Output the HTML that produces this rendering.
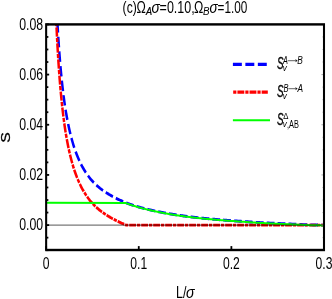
<!DOCTYPE html>
<html><head><meta charset="utf-8"><title>chart</title>
<style>
html,body{margin:0;padding:0;background:#fff;}
body{width:332px;height:299px;overflow:hidden;position:relative;font-family:"Liberation Sans",sans-serif;}
</style></head><body>
<svg width="332" height="299" viewBox="0 0 332 299" style="display:block;position:absolute;left:0;top:0;will-change:transform;filter:blur(0.3px)">
<rect x="0" y="0" width="332" height="299" fill="#fff"/>
<defs><clipPath id="cp"><rect x="46.15" y="24.40" width="277.85" height="225.60"/></clipPath></defs>
<g clip-path="url(#cp)"><g transform="scale(0.860 1)" fill="none" stroke-linejoin="round">
<path d="M66.88 24.40 L66.95 25.40 L67.01 26.40 L67.08 27.40 L67.15 28.40 L67.22 29.40 L67.28 30.40 L67.35 31.40 L67.42 32.40 L67.44 32.62 M67.74 36.78 L67.78 37.40 L67.86 38.40 L67.93 39.40 L68.01 40.40 L68.08 41.40 L68.16 42.40 L68.24 43.40 L68.32 44.40 L68.40 45.40 L68.48 46.40 L68.55 47.29 M68.90 51.44 L68.98 52.40 L69.07 53.40 L69.16 54.40 L69.25 55.40 L69.34 56.40 L69.43 57.40 L69.52 58.40 L69.61 59.40 L69.71 60.40 L69.80 61.40 L69.85 61.93 M70.26 66.07 L70.30 66.40 L70.40 67.40 L70.50 68.40 L70.61 69.40 L70.71 70.40 L70.82 71.40 L70.93 72.40 L71.04 73.40 L71.15 74.40 L71.27 75.40 L71.38 76.40 L71.40 76.54 M71.89 80.67 L71.98 81.40 L72.10 82.40 L72.23 83.40 L72.35 84.40 L72.48 85.40 L72.61 86.40 L72.75 87.40 L72.88 88.40 L73.02 89.40 L73.15 90.40 L73.25 91.10 M73.85 95.21 L73.87 95.40 L74.02 96.40 L74.18 97.40 L74.33 98.40 L74.49 99.40 L74.65 100.40 L74.81 101.40 L74.97 102.40 L75.14 103.40 L75.31 104.40 L75.48 105.40 L75.51 105.58 M76.24 109.67 L76.38 110.40 L76.57 111.40 L76.76 112.40 L76.96 113.40 L77.16 114.40 L77.36 115.40 L77.56 116.40 L77.77 117.40 L77.99 118.40 L78.20 119.40 L78.32 119.93 M79.24 123.97 L79.34 124.40 L79.58 125.40 L79.83 126.40 L80.08 127.40 L80.33 128.40 L80.59 129.40 L80.86 130.40 L81.13 131.40 L81.40 132.40 L81.68 133.40 L81.87 134.06 M83.05 138.00 L83.17 138.40 L83.49 139.40 L83.81 140.40 L84.14 141.40 L84.48 142.40 L84.82 143.40 L85.17 144.40 L85.53 145.40 L85.90 146.40 L86.28 147.40 L86.43 147.79 M87.95 151.57 L88.30 152.40 L88.74 153.40 L89.18 154.40 L89.64 155.40 L90.11 156.40 L90.59 157.40 L91.08 158.40 L91.59 159.40 L92.11 160.40 L92.32 160.81 M94.28 164.30 L94.34 164.40 L94.94 165.40 L95.55 166.40 L96.19 167.40 L96.85 168.40 L97.53 169.40 L98.23 170.40 L98.95 171.40 L99.69 172.40 L99.86 172.61 M102.31 175.66 L102.95 176.40 L103.84 177.40 L104.77 178.40 L105.74 179.40 L106.74 180.40 L107.79 181.40 L108.89 182.40 L109.13 182.61 M112.04 185.05 L112.40 185.33 L112.98 185.79 L113.56 186.23 L114.14 186.67 L114.72 187.09 L115.31 187.51 L115.89 187.92 L116.47 188.33 L117.05 188.72 L117.63 189.11 L118.21 189.49 L118.79 189.86 L119.37 190.22 L119.81 190.49 M123.02 192.36 L123.44 192.60 L124.03 192.91 L124.61 193.23 L125.19 193.54 L125.77 193.85 L126.35 194.15 L126.93 194.46 L127.51 194.75 L128.10 195.05 L128.68 195.34 L129.26 195.63 L129.84 195.91 L130.42 196.19 L131.00 196.47 L131.32 196.62 M134.66 198.14 L135.07 198.32 L135.65 198.57 L136.24 198.82 L136.82 199.06 L137.40 199.30 L137.98 199.54 L138.56 199.78 L139.14 200.01 L139.72 200.24 L140.31 200.47 L140.89 200.70 L141.47 200.93 L142.05 201.15 L142.63 201.37 L143.21 201.59 L143.24 201.60 M146.67 202.82 L146.70 202.83 L147.28 203.03 L147.86 203.22 L148.44 203.41 L149.03 203.60 L149.61 203.78 L150.19 203.96 L150.77 204.14 L151.35 204.32 L151.93 204.49 L152.51 204.66 L153.10 204.83 L153.68 204.99 L154.26 205.16 L154.84 205.32 L155.42 205.48 L155.45 205.49 M158.95 206.41 L159.49 206.55 L160.07 206.70 L160.65 206.84 L161.24 206.99 L161.82 207.13 L162.40 207.27 L162.98 207.41 L163.56 207.55 L164.14 207.68 L164.72 207.82 L165.31 207.95 L165.89 208.08 L166.47 208.21 L167.05 208.34 L167.63 208.47 L167.84 208.51 M171.37 209.26 L171.70 209.33 L172.28 209.45 L172.86 209.56 L173.44 209.68 L174.03 209.80 L174.61 209.91 L175.19 210.02 L175.77 210.14 L176.35 210.25 L176.93 210.36 L177.51 210.47 L178.10 210.58 L178.68 210.69 L179.26 210.80 L179.84 210.90 L180.33 210.99 M183.87 211.63 L183.91 211.64 L184.49 211.74 L185.07 211.84 L185.65 211.95 L186.24 212.05 L186.82 212.14 L187.40 212.24 L187.98 212.34 L188.56 212.44 L189.14 212.54 L189.72 212.63 L190.31 212.73 L190.89 212.82 L191.47 212.91 L192.05 213.01 L192.63 213.10 L192.86 213.14 M196.42 213.68 L196.70 213.72 L197.28 213.81 L197.86 213.89 L198.44 213.98 L199.03 214.06 L199.61 214.14 L200.19 214.23 L200.77 214.31 L201.35 214.39 L201.93 214.47 L202.51 214.55 L203.10 214.63 L203.68 214.71 L204.26 214.79 L204.84 214.86 L205.42 214.94 L205.43 214.94 M209.00 215.40 L209.49 215.46 L210.07 215.53 L210.65 215.60 L211.24 215.67 L211.82 215.74 L212.40 215.81 L212.98 215.88 L213.56 215.95 L214.14 216.02 L214.72 216.08 L215.31 216.15 L215.89 216.21 L216.47 216.28 L217.05 216.34 L217.63 216.41 L218.03 216.45 M221.60 216.84 L221.70 216.85 L222.28 216.91 L222.86 216.97 L223.44 217.03 L224.03 217.09 L224.61 217.14 L225.19 217.20 L225.77 217.26 L226.35 217.32 L226.93 217.37 L227.51 217.43 L228.10 217.49 L228.68 217.54 L229.26 217.60 L229.84 217.65 L230.42 217.71 L230.65 217.73 M234.22 218.06 L234.49 218.08 L235.07 218.13 L235.65 218.19 L236.24 218.24 L236.82 218.29 L237.40 218.34 L237.98 218.39 L238.56 218.44 L239.14 218.49 L239.72 218.54 L240.31 218.58 L240.89 218.63 L241.47 218.68 L242.05 218.73 L242.63 218.78 L243.21 218.82 L243.28 218.83 M246.86 219.11 L247.28 219.15 L247.86 219.19 L248.44 219.24 L249.03 219.28 L249.61 219.32 L250.19 219.37 L250.77 219.41 L251.35 219.45 L251.93 219.50 L252.51 219.54 L253.10 219.58 L253.68 219.63 L254.26 219.67 L254.84 219.71 L255.42 219.75 L255.92 219.79 M259.50 220.03 L260.07 220.07 L260.65 220.11 L261.24 220.15 L261.82 220.19 L262.40 220.23 L262.98 220.27 L263.56 220.30 L264.14 220.34 L264.72 220.38 L265.31 220.42 L265.89 220.45 L266.47 220.49 L267.05 220.52 L267.63 220.56 L268.21 220.60 L268.56 220.62 M272.15 220.83 L272.28 220.84 L272.86 220.88 L273.44 220.91 L274.03 220.94 L274.61 220.98 L275.19 221.01 L275.77 221.05 L276.35 221.08 L276.93 221.12 L277.51 221.15 L278.10 221.18 L278.68 221.22 L279.26 221.25 L279.84 221.29 L280.42 221.32 L281.00 221.36 L281.21 221.37 M284.80 221.59 L285.07 221.61 L285.65 221.64 L286.24 221.68 L286.82 221.71 L287.40 221.75 L287.98 221.79 L288.56 221.82 L289.14 221.86 L289.72 221.89 L290.31 221.93 L290.89 221.96 L291.47 222.00 L292.05 222.03 L292.63 222.07 L293.21 222.10 L293.79 222.14 L293.86 222.14 M297.44 222.34 L297.86 222.36 L298.44 222.39 L299.03 222.42 L299.61 222.45 L300.19 222.48 L300.77 222.51 L301.35 222.54 L301.93 222.57 L302.51 222.59 L303.10 222.62 L303.68 222.65 L304.26 222.68 L304.84 222.70 L305.42 222.73 L306.00 222.75 L306.51 222.78 M310.10 222.93 L310.65 222.96 L311.24 222.98 L311.82 223.00 L312.40 223.03 L312.98 223.05 L313.56 223.08 L314.14 223.10 L314.72 223.12 L315.31 223.15 L315.89 223.17 L316.47 223.19 L317.05 223.22 L317.63 223.24 L318.21 223.26 L318.79 223.29 L319.17 223.30 M322.76 223.45 L322.86 223.45 L323.44 223.48 L324.03 223.50 L324.61 223.52 L325.19 223.55 L325.77 223.57 L326.35 223.59 L326.93 223.62 L327.51 223.64 L328.10 223.66 L328.68 223.69 L329.26 223.71 L329.84 223.73 L330.42 223.76 L331.00 223.78 L331.58 223.80 L331.83 223.81 M335.42 223.95 L335.65 223.96 L336.24 223.99 L336.82 224.01 L337.40 224.03 L337.98 224.05 L338.56 224.07 L339.14 224.10 L339.72 224.12 L340.31 224.14 L340.89 224.16 L341.47 224.18 L342.05 224.21 L342.63 224.23 L343.21 224.25 L343.79 224.27 L344.37 224.29 L344.49 224.30 M348.08 224.44 L348.44 224.46 L349.03 224.48 L349.61 224.50 L350.19 224.53 L350.77 224.55 L351.35 224.57 L351.93 224.59 L352.51 224.62 L353.10 224.64 L353.68 224.66 L354.26 224.68 L354.84 224.70 L355.42 224.72 L356.00 224.74 L356.58 224.76 L357.15 224.78 M360.74 224.87 L361.24 224.88 L361.82 224.89 L362.40 224.90 L362.98 224.92 L363.56 224.93 L364.14 224.94 L364.72 224.95 L365.31 224.96 L365.89 224.97 L366.47 224.98 L367.05 224.99 L367.63 225.00 L368.21 225.01 L368.79 225.02 L369.37 225.03 L369.81 225.03 M373.40 225.08 L373.44 225.08 L374.03 225.08 L374.61 225.09 L375.19 225.09 L375.77 225.09 L376.35 225.09 L376.74 225.09" stroke="#0000ff" stroke-width="2.90"/>
<path d="M65.58 24.40 L65.64 25.40 L65.67 26.10 M65.74 27.39 L65.74 27.40 L65.80 28.40 L65.85 29.40 L65.91 30.40 L65.96 31.40 L66.02 32.40 L66.08 33.40 L66.13 34.40 L66.19 35.40 L66.25 36.40 L66.26 36.57 M66.34 37.87 L66.37 38.40 L66.43 39.40 L66.49 40.40 L66.55 41.40 L66.60 42.16 M66.68 43.46 L66.74 44.40 L66.80 45.40 L66.87 46.40 L66.93 47.40 L67.00 48.40 L67.06 49.40 L67.13 50.40 L67.20 51.40 L67.27 52.40 L67.28 52.63 M67.37 53.93 L67.41 54.40 L67.48 55.40 L67.55 56.40 L67.62 57.40 L67.68 58.21 M67.77 59.51 L67.84 60.40 L67.91 61.40 L67.99 62.40 L68.06 63.40 L68.14 64.40 L68.22 65.40 L68.30 66.40 L68.38 67.40 L68.46 68.40 L68.48 68.67 M68.59 69.97 L68.62 70.40 L68.70 71.40 L68.79 72.40 L68.87 73.40 L68.95 74.25 M69.06 75.54 L69.13 76.40 L69.22 77.40 L69.31 78.40 L69.40 79.40 L69.50 80.40 L69.59 81.40 L69.68 82.40 L69.78 83.40 L69.87 84.40 L69.90 84.69 M70.03 85.98 L70.07 86.40 L70.17 87.40 L70.27 88.40 L70.37 89.40 L70.46 90.25 M70.60 91.54 L70.69 92.40 L70.79 93.40 L70.90 94.40 L71.01 95.40 L71.13 96.40 L71.24 97.40 L71.35 98.40 L71.47 99.40 L71.59 100.40 L71.62 100.67 M71.77 101.95 L71.82 102.40 L71.95 103.40 L72.07 104.40 L72.20 105.40 L72.30 106.21 M72.46 107.50 L72.58 108.40 L72.71 109.40 L72.85 110.40 L72.98 111.40 L73.12 112.40 L73.26 113.40 L73.40 114.40 L73.54 115.40 L73.69 116.40 L73.72 116.58 M73.91 117.86 L73.99 118.40 L74.14 119.40 L74.29 120.40 L74.45 121.40 L74.56 122.10 M74.76 123.37 L74.77 123.40 L74.93 124.40 L75.10 125.40 L75.26 126.40 L75.44 127.40 L75.61 128.40 L75.79 129.40 L75.97 130.40 L76.15 131.40 L76.33 132.39 M76.57 133.66 L76.71 134.40 L76.91 135.40 L77.11 136.40 L77.31 137.40 L77.40 137.86 M77.66 139.12 L77.72 139.40 L77.93 140.40 L78.15 141.40 L78.37 142.40 L78.59 143.40 L78.82 144.40 L79.05 145.40 L79.28 146.40 L79.52 147.40 L79.68 148.02 M79.98 149.27 L80.02 149.40 L80.27 150.40 L80.53 151.40 L80.79 152.40 L81.06 153.39 M81.40 154.63 L81.61 155.40 L81.90 156.40 L82.19 157.40 L82.48 158.40 L82.78 159.40 L83.09 160.40 L83.41 161.40 L83.73 162.40 L84.03 163.31 M84.44 164.52 L84.74 165.40 L85.09 166.40 L85.44 167.40 L85.81 168.40 L85.85 168.50 M86.30 169.69 L86.57 170.40 L86.96 171.40 L87.36 172.40 L87.77 173.40 L88.19 174.40 L88.63 175.40 L89.07 176.40 L89.52 177.40 L89.79 177.96 M90.32 179.11 L90.47 179.40 L90.95 180.40 L91.46 181.40 L91.97 182.40 L92.20 182.82 M92.79 183.93 L93.05 184.40 L93.61 185.40 L94.19 186.40 L94.78 187.40 L95.40 188.40 L96.03 189.40 L96.68 190.40 L97.36 191.40 L97.38 191.44 M98.09 192.45 L98.77 193.40 L99.51 194.40 L100.27 195.40 L100.52 195.71 M101.28 196.67 L101.88 197.40 L102.73 198.40 L103.62 199.40 L104.53 200.40 L105.49 201.40 L106.49 202.40 L107.08 202.97 M107.95 203.79 L108.61 204.40 L109.75 205.40 L110.92 206.39 M111.84 207.14 L112.09 207.34 L112.68 207.80 L113.26 208.25 L113.84 208.69 L114.42 209.12 L115.00 209.55 L115.58 209.96 L116.16 210.37 L116.75 210.77 L117.33 211.16 L117.91 211.54 L118.49 211.92 L118.61 211.99 M119.60 212.61 L119.65 212.64 L120.23 213.00 L120.82 213.35 L121.40 213.69 L121.98 214.02 L122.56 214.35 L122.92 214.55 M123.94 215.12 L124.30 215.32 L124.89 215.63 L125.47 215.94 L126.05 216.25 L126.63 216.55 L127.21 216.85 L127.79 217.15 L128.37 217.44 L128.95 217.73 L129.54 218.01 L130.12 218.30 L130.70 218.57 L131.23 218.83 M132.27 219.31 L132.44 219.39 L133.02 219.66 L133.61 219.92 L134.19 220.18 L134.77 220.43 L135.35 220.69 L135.75 220.86 M136.81 221.30 L137.09 221.42 L137.68 221.66 L138.26 221.90 L138.84 222.14 L139.42 222.37 L140.00 222.60 L140.58 222.83 L141.16 223.06 L141.75 223.28 L142.33 223.51 L142.91 223.72 L143.49 223.94 L144.07 224.16 L144.35 224.26 M145.43 224.64 L145.82 224.78 L146.40 224.98 L146.98 225.10 L147.56 225.10 L148.14 225.10 L148.72 225.10 L149.10 225.10 M150.23 225.10 L150.47 225.10 L151.05 225.10 L151.63 225.10 L152.21 225.10 L152.79 225.10 L153.37 225.10 L153.95 225.10 L154.54 225.10 L155.12 225.10 L155.70 225.10 L156.28 225.10 L156.86 225.10 L157.44 225.10 L158.02 225.10 L158.20 225.10 M159.32 225.10 L159.77 225.10 L160.35 225.10 L160.93 225.10 L161.51 225.10 L162.09 225.10 L162.68 225.10 L163.05 225.10 M164.18 225.10 L164.42 225.10 L165.00 225.10 L165.58 225.10 L166.16 225.10 L166.75 225.10 L167.33 225.10 L167.91 225.10 L168.49 225.10 L169.07 225.10 L169.65 225.10 L170.23 225.10 L170.82 225.10 L171.40 225.10 L171.98 225.10 L172.15 225.10 M173.27 225.10 L173.72 225.10 L174.30 225.10 L174.89 225.10 L175.47 225.10 L176.05 225.10 L176.63 225.10 L177.00 225.10 M178.12 225.10 L178.37 225.10 L178.95 225.10 L179.54 225.10 L180.12 225.10 L180.70 225.10 L181.28 225.10 L181.86 225.10 L182.44 225.10 L183.02 225.10 L183.61 225.10 L184.19 225.10 L184.77 225.10 L185.35 225.10 L185.93 225.10 L186.09 225.10 M187.22 225.10 L187.68 225.10 L188.26 225.10 L188.84 225.10 L189.42 225.10 L190.00 225.10 L190.58 225.10 L190.94 225.10 M192.07 225.10 L192.33 225.10 L192.91 225.10 L193.49 225.10 L194.07 225.10 L194.65 225.10 L195.23 225.10 L195.82 225.10 L196.40 225.10 L196.98 225.10 L197.56 225.10 L198.14 225.10 L198.72 225.10 L199.30 225.10 L199.89 225.10 L200.04 225.10 M201.17 225.10 L201.63 225.10 L202.21 225.10 L202.79 225.10 L203.37 225.10 L203.95 225.10 L204.54 225.10 L204.89 225.10 M206.02 225.10 L206.28 225.10 L206.86 225.10 L207.44 225.10 L208.02 225.10 L208.61 225.10 L209.19 225.10 L209.77 225.10 L210.35 225.10 L210.93 225.10 L211.51 225.10 L212.09 225.10 L212.68 225.10 L213.26 225.10 L213.84 225.10 L213.99 225.10 M215.11 225.10 L215.58 225.10 L216.16 225.10 L216.75 225.10 L217.33 225.10 L217.91 225.10 L218.49 225.10 L218.84 225.10 M219.96 225.10 L220.23 225.10 L220.82 225.10 L221.40 225.10 L221.98 225.10 L222.56 225.10 L223.14 225.10 L223.72 225.10 L224.30 225.10 L224.89 225.10 L225.47 225.10 L226.05 225.10 L226.63 225.10 L227.21 225.10 L227.79 225.10 L227.93 225.10 M229.06 225.10 L229.54 225.10 L230.12 225.10 L230.70 225.10 L231.28 225.10 L231.86 225.10 L232.44 225.10 L232.78 225.10 M233.91 225.10 L234.19 225.10 L234.77 225.10 L235.35 225.10 L235.93 225.10 L236.51 225.10 L237.09 225.10 L237.68 225.10 L238.26 225.10 L238.84 225.10 L239.42 225.10 L240.00 225.10 L240.58 225.10 L241.16 225.10 L241.75 225.10 L241.88 225.10 M243.01 225.10 L243.49 225.10 L244.07 225.10 L244.65 225.10 L245.23 225.10 L245.82 225.10 L246.40 225.10 L246.73 225.10 M247.86 225.10 L248.14 225.10 L248.72 225.10 L249.30 225.10 L249.89 225.10 L250.47 225.10 L251.05 225.10 L251.63 225.10 L252.21 225.10 L252.79 225.10 L253.37 225.10 L253.95 225.10 L254.54 225.10 L255.12 225.10 L255.70 225.10 L255.83 225.10 M256.95 225.10 L257.44 225.10 L258.02 225.10 L258.61 225.10 L259.19 225.10 L259.77 225.10 L260.35 225.10 L260.68 225.10 M261.80 225.10 L262.09 225.10 L262.68 225.10 L263.26 225.10 L263.84 225.10 L264.42 225.10 L265.00 225.10 L265.58 225.10 L266.16 225.10 L266.75 225.10 L267.33 225.10 L267.91 225.10 L268.49 225.10 L269.07 225.10 L269.65 225.10 L269.77 225.10 M270.90 225.10 L271.40 225.10 L271.98 225.10 L272.56 225.10 L273.14 225.10 L273.72 225.10 L274.30 225.10 L274.63 225.10 M275.75 225.10 L276.05 225.10 L276.63 225.10 L277.21 225.10 L277.79 225.10 L278.37 225.10 L278.95 225.10 L279.54 225.10 L280.12 225.10 L280.70 225.10 L281.28 225.10 L281.86 225.10 L282.44 225.10 L283.02 225.10 L283.61 225.10 L283.72 225.10 M284.85 225.10 L285.35 225.10 L285.93 225.10 L286.51 225.10 L287.09 225.10 L287.68 225.10 L288.26 225.10 L288.57 225.10 M289.70 225.10 L290.00 225.10 L290.58 225.10 L291.16 225.10 L291.75 225.10 L292.33 225.10 L292.91 225.10 L293.49 225.10 L294.07 225.10 L294.65 225.10 L295.23 225.10 L295.82 225.10 L296.40 225.10 L296.98 225.10 L297.56 225.10 L297.67 225.10 M298.80 225.10 L299.30 225.10 L299.89 225.10 L300.47 225.10 L301.05 225.10 L301.63 225.10 L302.21 225.10 L302.52 225.10 M303.65 225.10 L303.95 225.10 L304.54 225.10 L305.12 225.10 L305.70 225.10 L306.28 225.10 L306.86 225.10 L307.44 225.10 L308.02 225.10 L308.61 225.10 L309.19 225.10 L309.77 225.10 L310.35 225.10 L310.93 225.10 L311.51 225.10 L311.62 225.10 M312.74 225.10 L313.26 225.10 L313.84 225.10 L314.42 225.10 L315.00 225.10 L315.58 225.10 L316.16 225.10 L316.47 225.10 M317.59 225.10 L317.91 225.10 L318.49 225.10 L319.07 225.10 L319.65 225.10 L320.23 225.10 L320.82 225.10 L321.40 225.10 L321.98 225.10 L322.56 225.10 L323.14 225.10 L323.72 225.10 L324.30 225.10 L324.89 225.10 L325.47 225.10 L325.56 225.10 M326.69 225.10 L327.21 225.10 L327.79 225.10 L328.37 225.10 L328.95 225.10 L329.54 225.10 L330.12 225.10 L330.41 225.10 M331.54 225.10 L331.86 225.10 L332.44 225.10 L333.02 225.10 L333.61 225.10 L334.19 225.10 L334.77 225.10 L335.35 225.10 L335.93 225.10 L336.51 225.10 L337.09 225.10 L337.68 225.10 L338.26 225.10 L338.84 225.10 L339.42 225.10 L339.51 225.10 M340.64 225.10 L341.16 225.10 L341.75 225.10 L342.33 225.10 L342.91 225.10 L343.49 225.10 L344.07 225.10 L344.36 225.10 M345.49 225.10 L345.82 225.10 L346.40 225.10 L346.98 225.10 L347.56 225.10 L348.14 225.10 L348.72 225.10 L349.30 225.10 L349.89 225.10 L350.47 225.10 L351.05 225.10 L351.63 225.10 L352.21 225.10 L352.79 225.10 L353.37 225.10 L353.46 225.10 M354.58 225.10 L355.12 225.10 L355.70 225.10 L356.28 225.10 L356.86 225.10 L357.44 225.10 L358.02 225.10 L358.31 225.10 M359.43 225.10 L359.77 225.10 L360.35 225.10 L360.93 225.10 L361.51 225.10 L362.09 225.10 L362.68 225.10 L363.26 225.10 L363.84 225.10 L364.42 225.10 L365.00 225.10 L365.58 225.10 L366.16 225.10 L366.75 225.10 L367.33 225.10 L367.40 225.10 M368.53 225.10 L369.07 225.10 L369.65 225.10 L370.23 225.10 L370.82 225.10 L371.40 225.10 L371.98 225.10 L372.26 225.10 M373.38 225.10 L373.72 225.10 L374.30 225.10 L374.89 225.10 L375.47 225.10 L376.05 225.10 L376.63 225.10 L376.74 225.10" stroke="#ff0000" stroke-width="2.90"/>
<path d="M53.66 202.85 L146.12 202.93 L146.70 203.13 L147.28 203.33 L147.86 203.52 L148.44 203.71 L149.03 203.90 L149.61 204.08 L150.19 204.26 L150.77 204.44 L151.35 204.62 L151.93 204.79 L152.51 204.96 L153.10 205.13 L153.68 205.29 L154.26 205.46 L154.84 205.62 L155.42 205.78 L156.00 205.94 L156.58 206.09 L157.17 206.25 L157.75 206.40 L158.33 206.55 L158.91 206.70 L159.49 206.85 L160.07 207.00 L160.65 207.14 L161.24 207.29 L161.82 207.43 L162.40 207.57 L162.98 207.71 L163.56 207.85 L164.14 207.98 L164.72 208.12 L165.31 208.25 L165.89 208.38 L166.47 208.51 L167.05 208.64 L167.63 208.77 L168.21 208.89 L168.79 209.02 L169.37 209.14 L169.96 209.27 L170.54 209.39 L171.12 209.51 L171.70 209.63 L172.28 209.75 L172.86 209.86 L173.44 209.98 L174.03 210.10 L174.61 210.21 L175.19 210.32 L175.77 210.44 L176.35 210.55 L176.93 210.66 L177.51 210.77 L178.10 210.88 L178.68 210.99 L179.26 211.10 L179.84 211.20 L180.42 211.31 L181.00 211.42 L181.58 211.52 L182.17 211.63 L182.75 211.73 L183.33 211.84 L183.91 211.94 L184.49 212.04 L185.07 212.14 L185.65 212.25 L186.24 212.35 L186.82 212.44 L187.40 212.54 L187.98 212.64 L188.56 212.74 L189.14 212.84 L189.72 212.93 L190.31 213.03 L190.89 213.12 L191.47 213.21 L192.05 213.31 L192.63 213.40 L193.21 213.49 L193.79 213.58 L194.37 213.67 L194.96 213.76 L195.54 213.85 L196.12 213.94 L196.70 214.02 L197.28 214.11 L197.86 214.19 L198.44 214.28 L199.03 214.36 L199.61 214.44 L200.19 214.53 L200.77 214.61 L201.35 214.69 L201.93 214.77 L202.51 214.85 L203.10 214.93 L203.68 215.01 L204.26 215.09 L204.84 215.16 L205.42 215.24 L206.00 215.32 L206.58 215.39 L207.17 215.47 L207.75 215.54 L208.33 215.62 L208.91 215.69 L209.49 215.76 L210.07 215.83 L210.65 215.90 L211.24 215.97 L211.82 216.04 L212.40 216.11 L212.98 216.18 L213.56 216.25 L214.14 216.32 L214.72 216.38 L215.31 216.45 L215.89 216.51 L216.47 216.58 L217.05 216.64 L217.63 216.71 L218.21 216.77 L218.79 216.84 L219.37 216.90 L219.96 216.96 L220.54 217.02 L221.12 217.08 L221.70 217.15 L222.28 217.21 L222.86 217.27 L223.44 217.33 L224.03 217.39 L224.61 217.44 L225.19 217.50 L225.77 217.56 L226.35 217.62 L226.93 217.67 L227.51 217.73 L228.10 217.79 L228.68 217.84 L229.26 217.90 L229.84 217.95 L230.42 218.01 L231.00 218.06 L231.58 218.12 L232.17 218.17 L232.75 218.22 L233.33 218.28 L233.91 218.33 L234.49 218.38 L235.07 218.43 L235.65 218.49 L236.24 218.54 L236.82 218.59 L237.40 218.64 L237.98 218.69 L238.56 218.74 L239.14 218.79 L239.72 218.84 L240.31 218.88 L240.89 218.93 L241.47 218.98 L242.05 219.03 L242.63 219.08 L243.21 219.12 L243.79 219.17 L244.37 219.22 L244.96 219.26 L245.54 219.31 L246.12 219.36 L246.70 219.40 L247.28 219.45 L247.86 219.49 L248.44 219.54 L249.03 219.58 L249.61 219.62 L250.19 219.67 L250.77 219.71 L251.35 219.75 L251.93 219.80 L252.51 219.84 L253.10 219.88 L253.68 219.93 L254.26 219.97 L254.84 220.01 L255.42 220.05 L256.00 220.09 L256.58 220.13 L257.17 220.17 L257.75 220.21 L258.33 220.25 L258.91 220.29 L259.49 220.33 L260.07 220.37 L260.65 220.41 L261.24 220.45 L261.82 220.49 L262.40 220.53 L262.98 220.57 L263.56 220.60 L264.14 220.64 L264.72 220.68 L265.31 220.72 L265.89 220.75 L266.47 220.79 L267.05 220.82 L267.63 220.86 L268.21 220.90 L268.79 220.93 L269.37 220.97 L269.96 221.00 L270.54 221.04 L271.12 221.07 L271.70 221.11 L272.28 221.14 L272.86 221.18 L273.44 221.21 L274.03 221.24 L274.61 221.28 L275.19 221.31 L275.77 221.35 L276.35 221.38 L276.93 221.42 L277.51 221.45 L278.10 221.48 L278.68 221.52 L279.26 221.55 L279.84 221.59 L280.42 221.62 L281.00 221.66 L281.58 221.69 L282.17 221.73 L282.75 221.76 L283.33 221.80 L283.91 221.83 L284.49 221.87 L285.07 221.91 L285.65 221.94 L286.24 221.98 L286.82 222.01 L287.40 222.05 L287.98 222.09 L288.56 222.12 L289.14 222.16 L289.72 222.19 L290.31 222.23 L290.89 222.26 L291.47 222.30 L292.05 222.33 L292.63 222.37 L293.21 222.40 L293.79 222.44 L294.37 222.47 L294.96 222.50 L295.54 222.54 L296.12 222.57 L296.70 222.60 L297.28 222.63 L297.86 222.66 L298.44 222.69 L299.03 222.72 L299.61 222.75 L300.19 222.78 L300.77 222.81 L301.35 222.84 L301.93 222.87 L302.51 222.89 L303.10 222.92 L303.68 222.95 L304.26 222.98 L304.84 223.00 L305.42 223.03 L306.00 223.05 L306.58 223.08 L307.17 223.11 L307.75 223.13 L308.33 223.16 L308.91 223.18 L309.49 223.21 L310.07 223.23 L310.65 223.26 L311.24 223.28 L311.82 223.30 L312.40 223.33 L312.98 223.35 L313.56 223.38 L314.14 223.40 L314.72 223.42 L315.31 223.45 L315.89 223.47 L316.47 223.49 L317.05 223.52 L317.63 223.54 L318.21 223.56 L318.79 223.59 L319.37 223.61 L319.96 223.63 L320.54 223.66 L321.12 223.68 L321.70 223.71 L322.28 223.73 L322.86 223.75 L323.44 223.78 L324.03 223.80 L324.61 223.82 L325.19 223.85 L325.77 223.87 L326.35 223.89 L326.93 223.92 L327.51 223.94 L328.10 223.96 L328.68 223.99 L329.26 224.01 L329.84 224.03 L330.42 224.06 L331.00 224.08 L331.58 224.10 L332.17 224.13 L332.75 224.15 L333.33 224.17 L333.91 224.19 L334.49 224.22 L335.07 224.24 L335.65 224.26 L336.24 224.29 L336.82 224.31 L337.40 224.33 L337.98 224.35 L338.56 224.37 L339.14 224.40 L339.72 224.42 L340.31 224.44 L340.89 224.46 L341.47 224.48 L342.05 224.51 L342.63 224.53 L343.21 224.55 L343.79 224.57 L344.37 224.59 L344.96 224.62 L345.54 224.64 L346.12 224.66 L346.70 224.69 L347.28 224.71 L347.86 224.73 L348.44 224.76 L349.03 224.78 L349.61 224.80 L350.19 224.83 L350.77 224.85 L351.35 224.87 L351.93 224.89 L352.51 224.92 L353.10 224.94 L353.68 224.96 L354.26 224.98 L354.84 225.00 L355.42 225.02 L356.00 225.04 L356.58 225.06 L357.17 225.08 L357.75 225.09 L358.33 225.11 L358.91 225.13 L359.49 225.14 L360.07 225.16 L360.65 225.17 L361.24 225.18 L361.82 225.19 L362.40 225.20 L362.98 225.22 L363.56 225.23 L364.14 225.24 L364.72 225.25 L365.31 225.26 L365.89 225.27 L366.47 225.28 L367.05 225.29 L367.63 225.30 L368.21 225.31 L368.79 225.32 L369.37 225.33 L369.96 225.34 L370.54 225.34 L371.12 225.35 L371.70 225.36 L372.28 225.37 L372.86 225.37 L373.44 225.38 L374.03 225.38 L374.61 225.39 L375.19 225.39 L375.77 225.39 L376.35 225.39 L376.74 225.39" stroke="#00ff00" stroke-width="2.00"/>
</g></g>
<line x1="46.15" y1="225.10" x2="324.00" y2="225.10" stroke="#787878" stroke-width="1.1" style="mix-blend-mode:multiply"/>
<g stroke="#000" stroke-width="1.8"><line x1="46.15" y1="250.19" x2="48.35" y2="250.19"/><line x1="322.00" y1="250.19" x2="324.00" y2="250.19" stroke-width="0.7" stroke="#c4c4c4"/><line x1="46.15" y1="237.64" x2="48.35" y2="237.64"/><line x1="322.00" y1="237.64" x2="324.00" y2="237.64" stroke-width="0.7" stroke="#c4c4c4"/><line x1="46.15" y1="225.10" x2="49.15" y2="225.10"/><line x1="321.40" y1="225.10" x2="324.00" y2="225.10" stroke-width="0.7" stroke="#8a8a8a"/><line x1="46.15" y1="212.56" x2="48.35" y2="212.56"/><line x1="322.00" y1="212.56" x2="324.00" y2="212.56" stroke-width="0.7" stroke="#c4c4c4"/><line x1="46.15" y1="200.01" x2="48.35" y2="200.01"/><line x1="322.00" y1="200.01" x2="324.00" y2="200.01" stroke-width="0.7" stroke="#c4c4c4"/><line x1="46.15" y1="187.47" x2="48.35" y2="187.47"/><line x1="322.00" y1="187.47" x2="324.00" y2="187.47" stroke-width="0.7" stroke="#c4c4c4"/><line x1="46.15" y1="174.93" x2="49.15" y2="174.93"/><line x1="321.40" y1="174.93" x2="324.00" y2="174.93" stroke-width="0.7" stroke="#8a8a8a"/><line x1="46.15" y1="162.38" x2="48.35" y2="162.38"/><line x1="322.00" y1="162.38" x2="324.00" y2="162.38" stroke-width="0.7" stroke="#c4c4c4"/><line x1="46.15" y1="149.84" x2="48.35" y2="149.84"/><line x1="322.00" y1="149.84" x2="324.00" y2="149.84" stroke-width="0.7" stroke="#c4c4c4"/><line x1="46.15" y1="137.29" x2="48.35" y2="137.29"/><line x1="322.00" y1="137.29" x2="324.00" y2="137.29" stroke-width="0.7" stroke="#c4c4c4"/><line x1="46.15" y1="124.75" x2="49.15" y2="124.75"/><line x1="321.40" y1="124.75" x2="324.00" y2="124.75" stroke-width="0.7" stroke="#8a8a8a"/><line x1="46.15" y1="112.21" x2="48.35" y2="112.21"/><line x1="322.00" y1="112.21" x2="324.00" y2="112.21" stroke-width="0.7" stroke="#c4c4c4"/><line x1="46.15" y1="99.66" x2="48.35" y2="99.66"/><line x1="322.00" y1="99.66" x2="324.00" y2="99.66" stroke-width="0.7" stroke="#c4c4c4"/><line x1="46.15" y1="87.12" x2="48.35" y2="87.12"/><line x1="322.00" y1="87.12" x2="324.00" y2="87.12" stroke-width="0.7" stroke="#c4c4c4"/><line x1="46.15" y1="74.58" x2="49.15" y2="74.58"/><line x1="321.40" y1="74.58" x2="324.00" y2="74.58" stroke-width="0.7" stroke="#8a8a8a"/><line x1="46.15" y1="62.03" x2="48.35" y2="62.03"/><line x1="322.00" y1="62.03" x2="324.00" y2="62.03" stroke-width="0.7" stroke="#c4c4c4"/><line x1="46.15" y1="49.49" x2="48.35" y2="49.49"/><line x1="322.00" y1="49.49" x2="324.00" y2="49.49" stroke-width="0.7" stroke="#c4c4c4"/><line x1="46.15" y1="36.94" x2="48.35" y2="36.94"/><line x1="322.00" y1="36.94" x2="324.00" y2="36.94" stroke-width="0.7" stroke="#c4c4c4"/><line x1="46.15" y1="24.40" x2="49.15" y2="24.40"/><line x1="321.40" y1="24.40" x2="324.00" y2="24.40" stroke-width="0.7" stroke="#8a8a8a"/><line x1="46.15" y1="250.00" x2="46.15" y2="246.10" stroke-width="1.8"/><line x1="138.77" y1="250.00" x2="138.77" y2="246.10" stroke-width="1.8"/><line x1="231.38" y1="250.00" x2="231.38" y2="246.10" stroke-width="1.8"/><line x1="324.00" y1="250.00" x2="324.00" y2="246.10" stroke-width="1.8"/></g>
<rect x="53.66" y="24.40" width="323.08" height="225.60" transform="scale(0.860 1)" fill="none" stroke="#000" stroke-width="2.4"/>
<g fill="none" transform="scale(0.860 1)">
<path d="M270.81 64.3 H310.47" stroke="#0000ff" stroke-width="3.30" stroke-dasharray="10.4 4.1"/>
<path d="M271.16 92.1 H311.40" stroke="#ff0000" stroke-width="3.30" stroke-dasharray="3.7 1.2 8.0 1.2"/>
<path d="M270.81 120.2 H313.95" stroke="#00ff00" stroke-width="2.00"/>
</g>
<g font-family="'Liberation Sans', sans-serif" fill="#000">
<text transform="translate(43.20 230.30) scale(0.784 1)" font-size="15.69" text-anchor="end" >0.00</text>
<text transform="translate(43.20 180.12) scale(0.784 1)" font-size="15.69" text-anchor="end" >0.02</text>
<text transform="translate(43.20 129.95) scale(0.784 1)" font-size="15.69" text-anchor="end" >0.04</text>
<text transform="translate(43.20 79.78) scale(0.784 1)" font-size="15.69" text-anchor="end" >0.06</text>
<text transform="translate(43.20 29.60) scale(0.784 1)" font-size="15.69" text-anchor="end" >0.08</text>
<text transform="translate(46.15 268.80) scale(0.772 1)" font-size="15.69" text-anchor="middle" >0</text>
<text transform="translate(138.77 268.80) scale(0.772 1)" font-size="15.69" text-anchor="middle" >0.1</text>
<text transform="translate(231.38 268.80) scale(0.772 1)" font-size="15.69" text-anchor="middle" >0.2</text>
<text transform="translate(324.00 268.80) scale(0.772 1)" font-size="15.69" text-anchor="middle" >0.3</text>
<text transform="translate(176.00 298.30) scale(0.796 1)" font-size="15.69" text-anchor="start" >L/</text>
<text transform="translate(186.00 298.30) scale(0.905 1)" font-size="15.69" text-anchor="start" font-style="italic">σ</text>
<text transform="translate(9.5 142.8) rotate(-90) scale(1 0.796)" font-size="15.69" stroke="#000" stroke-width="0.35">S</text>
<text transform="translate(122.60 12.70) scale(0.772 1)" font-size="15.69" text-anchor="start" >(c)</text>
<text transform="translate(136.50 12.70) scale(0.796 1)" font-size="15.69" text-anchor="start" >Ω</text>
<text transform="translate(145.90 14.60) scale(0.796 1)" font-size="11.38" text-anchor="start" font-style="italic" stroke="#000" stroke-width="0.25">A</text>
<text transform="translate(151.60 12.70) scale(0.878 1)" font-size="15.69" text-anchor="start" font-style="italic">σ</text>
<text transform="translate(159.60 12.70) scale(0.796 1)" font-size="15.69" text-anchor="start" >=0.10,</text>
<text transform="translate(194.00 12.70) scale(0.796 1)" font-size="15.69" text-anchor="start" >Ω</text>
<text transform="translate(202.90 14.60) scale(0.860 1)" font-size="11.38" text-anchor="start" font-style="italic">B</text>
<text transform="translate(209.60 12.70) scale(0.860 1)" font-size="15.69" text-anchor="start" font-style="italic">σ</text>
<text transform="translate(217.60 12.70) scale(0.751 1)" font-size="15.69" text-anchor="start" >=1.00</text>
<text transform="translate(276.90 68.90) scale(0.630 1)" font-size="15.60" text-anchor="start" font-style="italic" stroke="#000" stroke-width="0.3">S</text>
<text transform="translate(282.80 71.40) scale(0.820 1)" font-size="9.80" text-anchor="start" font-style="italic">v</text>
<text transform="translate(283.00 63.60) scale(0.680 1)" font-size="10.80" text-anchor="start" font-style="italic">A</text>
<path d="M287.70 60.70 H296.50" stroke="#5a5a5a" stroke-width="0.95" fill="none"/><path d="M297.70 60.70 L295.20 59.05 L296.00 60.70 L295.20 62.35 Z" fill="#1a1a1a"/>
<text transform="translate(297.30 63.60) scale(0.770 1)" font-size="10.80" text-anchor="start" font-style="italic">B</text>
<text transform="translate(276.90 96.90) scale(0.630 1)" font-size="15.60" text-anchor="start" font-style="italic" stroke="#000" stroke-width="0.3">S</text>
<text transform="translate(282.80 99.40) scale(0.820 1)" font-size="9.80" text-anchor="start" font-style="italic">v</text>
<text transform="translate(283.60 91.60) scale(0.700 1)" font-size="10.80" text-anchor="start" font-style="italic">B</text>
<path d="M288.30 88.70 H296.50" stroke="#5a5a5a" stroke-width="0.95" fill="none"/><path d="M297.70 88.70 L295.20 87.05 L296.00 88.70 L295.20 90.35 Z" fill="#1a1a1a"/>
<text transform="translate(297.40 91.60) scale(0.770 1)" font-size="10.80" text-anchor="start" font-style="italic">A</text>
<text transform="translate(276.90 124.90) scale(0.630 1)" font-size="15.60" text-anchor="start" font-style="italic" stroke="#000" stroke-width="0.3">S</text>
<text transform="translate(282.80 127.40) scale(0.820 1)" font-size="9.80" text-anchor="start" font-style="italic">v</text>
<text transform="translate(287.00 127.60) scale(0.670 1)" font-size="11.00" text-anchor="start" >,AB</text>
<text transform="translate(283.30 119.40) scale(0.800 1)" font-size="9.70" text-anchor="start" >Δ</text>
</g>
</svg>
</body></html>
